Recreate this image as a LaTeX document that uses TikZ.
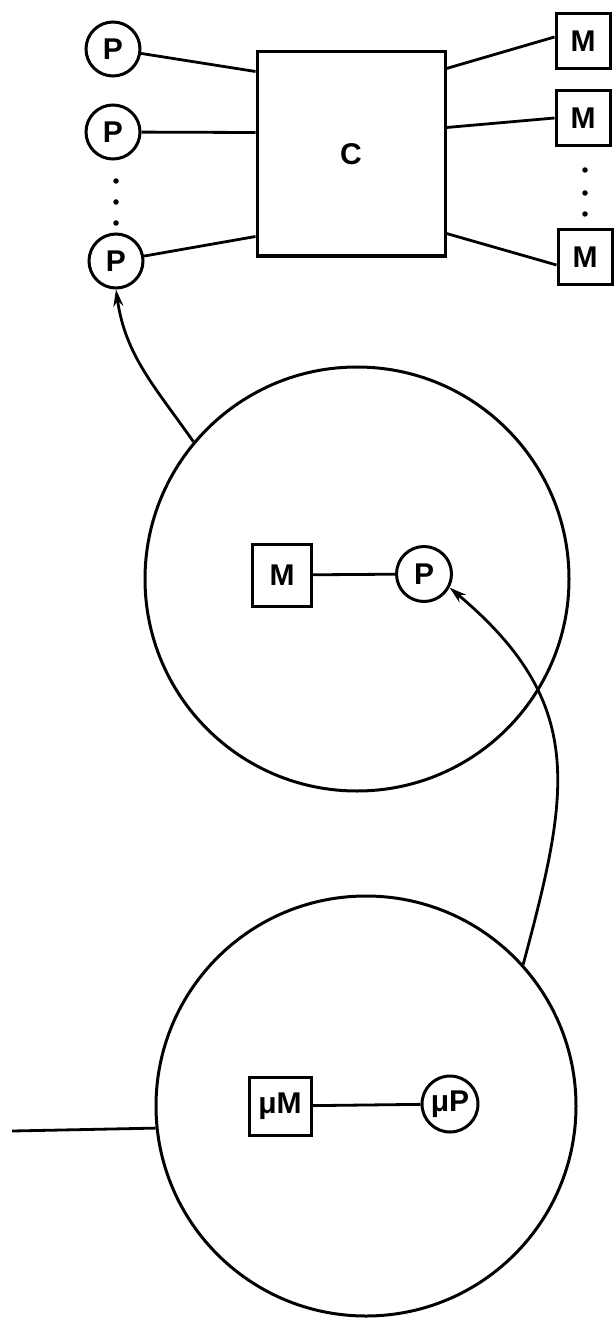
\documentclass[tikz,border=0pt]{standalone}
\usepackage{fontspec}
\setmainfont{Liberation Sans}
\usetikzlibrary{arrows.meta, positioning}

\begin{document}
\begin{tikzpicture}[
    x=1pt, y=-1pt,
    line width=3pt,
    font=\fontsize{30}{32}\selectfont\bfseries,
    % Styles
    proc/.style={circle, draw, minimum size=54pt, inner sep=0pt},
    mem/.style={rectangle, draw, minimum width=54pt, minimum height=55pt, inner sep=0pt},
    switchbox/.style={rectangle, draw, minimum width=188pt, minimum height=204pt},
    cell/.style={circle, draw, minimum size=424pt, inner sep=0pt},
    dot/.style={circle, fill, inner sep=0pt, minimum size=5.5pt},
    link/.style={line width=2.8pt},
    arrow/.style={-{Stealth[length=17pt, width=10pt]}, line width=2.8pt}
]
\useasboundingbox (0,0) rectangle (613,1324);

% ------------------- TOP: PROCESSORS, SWITCH, MEMORIES -------------------
\node[proc] (pA) at (113,49) {P};
\node[proc] (pB) at (113,132) {P};
\node[proc] (pC) at (116,261) {P};
\node[dot] (dl1) at (116,181) {};
\node[dot] (dl2) at (116,202) {};
\node[dot] (dl3) at (116,223) {};

\node[switchbox] (sw) at (351,154) {C};

\node[mem] (mA) at (583,41) {M};
\node[mem] (mB) at (583,118) {M};
\node[mem] (mC) at (585,257) {M};
\node[dot] (dr1) at (585,170) {};
\node[dot] (dr2) at (585,193) {};
\node[dot] (dr3) at (585,214) {};

\draw[link] (pA) -- ([yshift=-21pt]sw.north west);
\draw[link] (pB) -- ([yshift=-82pt]sw.north west);
\draw[link] (pC) -- ([yshift=21pt]sw.south west);
\draw[link] ([yshift=-18pt]sw.north east) -- ([yshift=4pt]mA.west);
\draw[link] ([yshift=-77pt]sw.north east) -- (mB.west);
\draw[link] ([yshift=24pt]sw.south east) -- ([yshift=-8pt]mC.west);

% ------------------- MIDDLE: ONE COMPUTER -------------------
\node[cell] (big1) at (357,579) {};
\node[mem, minimum width=59pt, minimum height=62pt] (mIn) at (282,575) {M};
\node[proc, minimum size=55pt] (pIn) at (424,574) {P};
\draw[link] (mIn) -- (pIn);

% ------------------- BOTTOM: ONE MICROCOMPUTER -------------------
\node[cell, minimum size=420pt] (big2) at (366,1106) {};
\node[mem, minimum width=62pt, minimum height=58pt] (muM) at (280,1106) {μM};
\node[proc, minimum size=56pt] (muP) at (450,1104) {μP};
\draw[link] (muM) -- (muP);
\coordinate (wire) at (12,1131);
\draw[link] (wire) -- (big2.186);

% ------------------- ARROWS -------------------
\draw[arrow] (big1.140) to[out=125, in=-82] (pC.south);
\draw[arrow] (big2.42) to[out=75, in=-40, looseness=1.2] (pIn.-28);

\end{tikzpicture}
\end{document}
